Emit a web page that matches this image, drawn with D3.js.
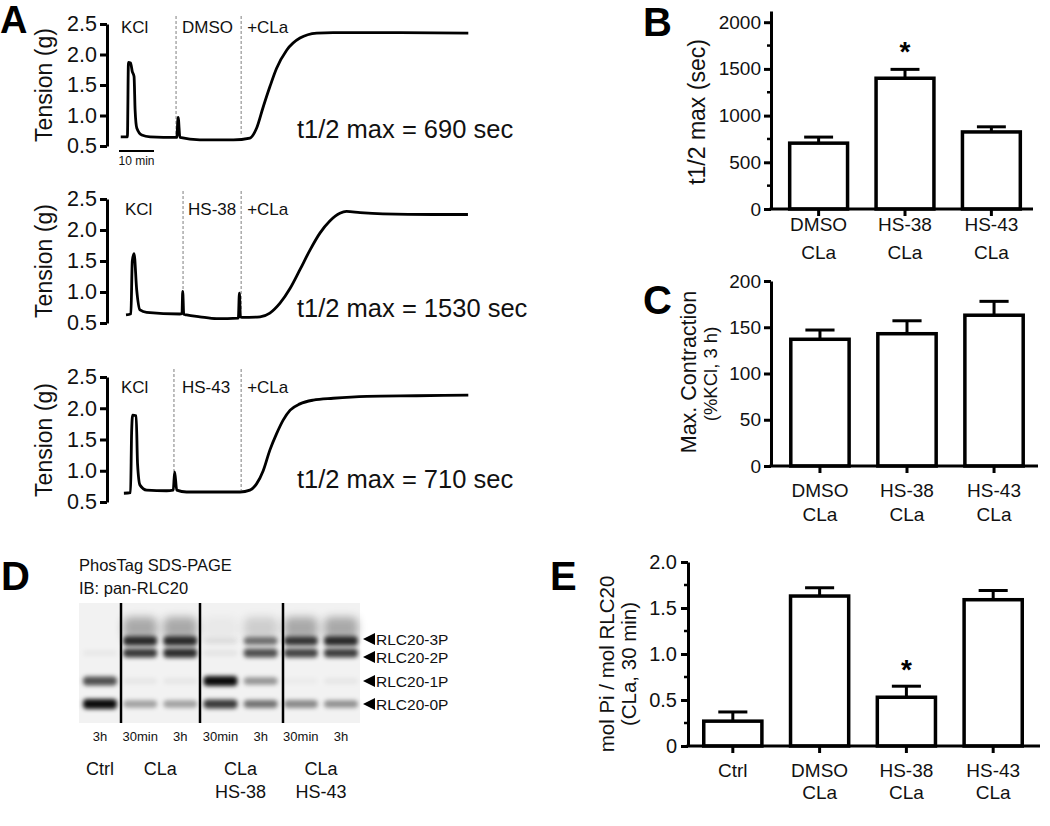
<!DOCTYPE html>
<html>
<head>
<meta charset="utf-8">
<script src="https://cdn.jsdelivr.net/npm/d3@7"></script>
<style>
  html, body { margin: 0; padding: 0; background: #ffffff; }
  svg { display: block; }
</style>
</head>
<body>
<div id="chart"></div>
<script>
// ---------------- DATA ----------------
// Panel A: tension traces (time in min, tension in g)
const trace1Time = [0.5, 2.4, 2.7, 3.3, 3.8, 4.3, 4.6, 5.1, 6.5, 8.9, 16.5, 16.9, 17.4, 23.1, 32.7, 37.4, 39.3, 41.2, 43.1, 45.0, 47.9, 51.7, 56.5, 61.2, 80.3, 99.8];
const trace1Val  = [0.65, 0.65, 1.87, 1.86, 1.72, 1.64, 1.09, 0.79, 0.68, 0.65, 0.64, 0.97, 0.64, 0.60, 0.60, 0.63, 0.79, 1.14, 1.47, 1.77, 2.07, 2.27, 2.35, 2.36, 2.36, 2.35];
const trace2Time = [2.0, 3.4, 3.8, 4.3, 5.05, 6.0, 7.9, 17.4, 18.0, 18.2, 18.5, 19.3, 23.1, 27.9, 34.1, 34.4, 34.7, 35.1, 40.3, 43.1, 46.0, 48.9, 51.7, 54.6, 57.4, 60.3, 63.1, 65.0, 68.9, 75.4, 89.8, 99.7];
const trace2Val  = [0.63, 0.65, 1.50, 1.62, 1.04, 0.71, 0.67, 0.645, 0.65, 1.01, 0.64, 0.63, 0.60, 0.57, 0.58, 0.98, 0.60, 0.59, 0.60, 0.66, 0.82, 1.06, 1.36, 1.68, 1.95, 2.15, 2.27, 2.30, 2.28, 2.26, 2.25, 2.25];
const trace3Time = [1.4, 3.3, 3.6, 3.9, 4.9, 5.3, 6.0, 7.9, 13.6, 15.5, 15.9, 16.5, 19.3, 34.6, 37.4, 39.3, 41.2, 43.1, 45.0, 46.9, 48.9, 51.7, 55.5, 61.2, 70.8, 85.0, 99.8];
const trace3Val  = [0.64, 0.65, 1.60, 1.89, 1.88, 1.11, 0.77, 0.69, 0.68, 0.69, 0.98, 0.69, 0.66, 0.66, 0.69, 0.79, 1.00, 1.33, 1.59, 1.81, 1.97, 2.07, 2.13, 2.16, 2.19, 2.20, 2.21];
const traceMarkTimes = [[16.3, 34.9], [18.3, 34.9], [15.7, 34.9]];
const traceLabels = [["KCl", "DMSO", "+CLa"], ["KCl", "HS-38", "+CLa"], ["KCl", "HS-43", "+CLa"]];
const traceHalfTexts = ["t1/2 max = 690 sec", "t1/2 max = 1530 sec", "t1/2 max = 710 sec"];
const tensionTicks = [0.5, 1.0, 1.5, 2.0, 2.5];
const scaleBarMin = 10;

// Panel B: t1/2 max (sec)
const catsBC = ["DMSO\nCLa", "HS-38\nCLa", "HS-43\nCLa"];
const halfMaxVals = [705, 1400, 825];
const halfMaxErr  = [65, 95, 55];
const halfMaxTicks = [0, 500, 1000, 1500, 2000];
const halfMaxMinor = [250, 750, 1250, 1750];
const halfMaxStars = [false, true, false];

// Panel C: Max contraction (%KCl, 3 h)
const maxContrVals = [137, 143, 163];
const maxContrErr  = [10, 14, 15];
const maxContrTicks = [0, 50, 100, 150, 200];

// Panel E: mol Pi / mol RLC20
const catsE = ["Ctrl", "DMSO\nCLa", "HS-38\nCLa", "HS-43\nCLa"];
const stoichVals = [0.27, 1.63, 0.53, 1.59];
const stoichErr  = [0.10, 0.09, 0.12, 0.10];
const stoichTicks = [0, 0.5, 1.0, 1.5, 2.0];
const stoichMinor = [0.25, 0.75, 1.25, 1.75];
const stoichStars = [false, false, true, false];

// Panel D: PhosTag blot
const blotLanes = ["Ctrl 3h", "CLa 30min", "CLa 3h", "HS-38 30min", "HS-38 3h", "HS-43 30min", "HS-43 3h"];
const blotTimes = ["3h", "30min", "3h", "30min", "3h", "30min", "3h"];
const blotRows  = ["RLC20-3P", "RLC20-2P", "RLC20-1P", "RLC20-0P"];
// intensity per lane, rows = 3P, 2P, 1P, 0P
const blotIntensity = [
  [0.00, 0.04, 0.70, 1.00],
  [0.85, 0.80, 0.05, 0.35],
  [0.85, 0.85, 0.05, 0.35],
  [0.08, 0.06, 1.00, 0.80],
  [0.55, 0.70, 0.40, 0.55],
  [0.80, 0.75, 0.03, 0.45],
  [0.85, 0.78, 0.05, 0.42]
];
const blotSmear = [0.0, 0.3, 0.3, 0.04, 0.15, 0.3, 0.3];
const blotGroups = [["Ctrl"], ["CLa"], ["CLa", "HS-38"], ["CLa", "HS-43"]];
const blotGroupLanes = [[0, 0], [1, 2], [3, 4], [5, 6]];

// ---------------- DRAWING ----------------
const W = 1050, H = 826;
const FONT = "'Liberation Sans', Arial, Helvetica, sans-serif";
const svg = d3.select("#chart").append("svg")
  .attr("width", W).attr("height", H)
  .attr("font-family", FONT);
svg.append("rect").attr("width", W).attr("height", H).attr("fill", "#fff");

const defs = svg.append("defs");
defs.append("filter").attr("id", "blur").attr("x", "-50%").attr("y", "-100%").attr("width", "200%").attr("height", "300%")
  .append("feGaussianBlur").attr("stdDeviation", 2.1);
defs.append("filter").attr("id", "blur2").attr("x", "-50%").attr("y", "-100%").attr("width", "200%").attr("height", "300%")
  .append("feGaussianBlur").attr("stdDeviation", 4.5);

function text(g, x, y, s, size, opt = {}) {
  return g.append("text").attr("x", x).attr("y", y)
    .attr("font-size", size)
    .attr("text-anchor", opt.anchor || "start")
    .attr("font-weight", opt.weight || "normal")
    .attr("fill", opt.fill || "#111")
    .text(s);
}
function rtext(g, x, y, s, size) {
  return g.append("text")
    .attr("transform", `translate(${x},${y}) rotate(-90)`)
    .attr("font-size", size).attr("text-anchor", "middle").attr("fill", "#111")
    .text(s);
}
function styleAxis(ax, fontSize) {
  ax.select(".domain").attr("stroke", "#000").attr("stroke-width", 3);
  ax.selectAll(".tick line").attr("stroke", "#000").attr("stroke-width", 3);
  ax.selectAll(".tick text").attr("font-size", fontSize).attr("fill", "#111").attr("font-family", FONT);
}

// Panel letters
text(svg, 0, 33, "A", 38, {weight: "bold", fill: "#000"});
text(svg, 643, 36, "B", 40, {weight: "bold", fill: "#000"});
text(svg, 643, 314, "C", 40, {weight: "bold", fill: "#000"});
text(svg, 1, 590, "D", 40, {weight: "bold", fill: "#000"});
text(svg, 550, 590, "E", 40, {weight: "bold", fill: "#000"});

// ---- Panel A ----
const xT = d3.scaleLinear().domain([0, 100]).range([119, 469]);
const traceLayouts = [
  {y25: 24, y05: 146, labelY: 33, halfY: 138, axisX: 107, tensionY: 85},
  {y25: 199, y05: 323, labelY: 215, halfY: 317, axisX: 107, tensionY: 261},
  {y25: 377, y05: 502, labelY: 393, halfY: 488, axisX: 107, tensionY: 440}
];
const traces = [[trace1Time, trace1Val], [trace2Time, trace2Val], [trace3Time, trace3Val]];
const labelOffsets = [[0, 6, 6], [0, 5, 6], [0, 8, 6]];
const kclX = [121, 125, 121];

traces.forEach((tr, i) => {
  const L = traceLayouts[i];
  const g = svg.append("g");
  const y = d3.scaleLinear().domain([0.5, 2.5]).range([L.y05, L.y25]);
  const ax = g.append("g").attr("transform", `translate(${L.axisX},0)`)
    .call(d3.axisLeft(y).tickValues(tensionTicks).tickFormat(d3.format(".1f")).tickSize(7).tickPadding(3).tickSizeOuter(0));
  styleAxis(ax, 21.5);
  rtext(g, 52, L.tensionY, "Tension (g)", 23);

  traceMarkTimes[i].forEach(t => {
    g.append("line").attr("x1", xT(t)).attr("x2", xT(t))
      .attr("y1", L.y25 - 8).attr("y2", L.y05 - 12)
      .attr("stroke", "#8a8a8a").attr("stroke-width", 1.1).attr("stroke-dasharray", "3,2");
  });
  text(g, kclX[i], L.labelY, traceLabels[i][0], 17);
  text(g, xT(traceMarkTimes[i][0]) + labelOffsets[i][1], L.labelY, traceLabels[i][1], 17);
  text(g, xT(traceMarkTimes[i][1]) + labelOffsets[i][2], L.labelY, traceLabels[i][2], 17);

  const pts = tr[0].map((t, k) => [t, tr[1][k]]);
  g.append("path").datum(pts)
    .attr("d", d3.line().x(d => xT(d[0])).y(d => y(d[1])).curve(d3.curveMonotoneX))
    .attr("fill", "none").attr("stroke", "#000").attr("stroke-width", 2.8).attr("stroke-linejoin", "round");

  text(g, 297, L.halfY, traceHalfTexts[i], 25.5);
});
svg.append("line").attr("x1", xT(0)).attr("x2", xT(scaleBarMin)).attr("y1", 151).attr("y2", 151)
  .attr("stroke", "#000").attr("stroke-width", 2);
text(svg, (xT(0) + xT(scaleBarMin)) / 2, 165, scaleBarMin + " min", 12, {anchor: "middle"});

// ---- Bar panels ----
function barPanel(cfg) {
  const g = svg.append("g");
  const x = d3.scaleBand().domain(cfg.cats).range(cfg.xRange).paddingInner(0.33).paddingOuter(0.17);
  const y = cfg.y;
  (cfg.minor || []).forEach(v => {
    g.append("line").attr("x1", cfg.axisX - 4).attr("x2", cfg.axisX).attr("y1", y(v)).attr("y2", y(v))
      .attr("stroke", "#000").attr("stroke-width", 2.5);
  });
  cfg.cats.forEach((c, i) => {
    const cx = x(c) + x.bandwidth() / 2;
    g.append("line").attr("x1", cx).attr("x2", cx).attr("y1", y(cfg.vals[i])).attr("y2", y(cfg.vals[i] + cfg.err[i]))
      .attr("stroke", "#000").attr("stroke-width", 3);
    g.append("line").attr("x1", cx - x.bandwidth() * 0.25).attr("x2", cx + x.bandwidth() * 0.25)
      .attr("y1", y(cfg.vals[i] + cfg.err[i])).attr("y2", y(cfg.vals[i] + cfg.err[i]))
      .attr("stroke", "#000").attr("stroke-width", 3);
    if (cfg.stars && cfg.stars[i]) {
      text(g, cx, y(cfg.vals[i] + cfg.err[i]) - cfg.starGap, "*", 28, {anchor: "middle", weight: "bold", fill: "#000"});
    }
  });
  g.selectAll("rect.bar").data(cfg.cats).join("rect")
    .attr("x", c => x(c)).attr("width", x.bandwidth())
    .attr("y", (c, i) => y(cfg.vals[i])).attr("height", (c, i) => y(0) - y(cfg.vals[i]))
    .attr("fill", "#fff").attr("stroke", "#000").attr("stroke-width", 3.5);
  const ax = g.append("g").attr("transform", `translate(${cfg.axisX},0)`)
    .call(d3.axisLeft(y).tickValues(cfg.ticks).tickFormat(cfg.fmt).tickSize(7).tickPadding(cfg.pad).tickSizeOuter(0));
  styleAxis(ax, cfg.tickFont);
  g.append("line").attr("x1", cfg.axisX - 1.5).attr("x2", cfg.xEnd).attr("y1", y(0)).attr("y2", y(0))
    .attr("stroke", "#000").attr("stroke-width", 3);
  cfg.cats.forEach((c, i) => {
    const cx = x(c) + x.bandwidth() / 2;
    g.append("line").attr("x1", cx).attr("x2", cx).attr("y1", y(0)).attr("y2", y(0) + 7)
      .attr("stroke", "#000").attr("stroke-width", 3);
    c.split("\n").forEach((line, k) => {
      text(g, cx, cfg.labelY[k], line, cfg.labelFont, {anchor: "middle"});
    });
  });
  return g;
}

// Panel B
const yB = d3.scaleLinear().domain([0, 2120]).range([209, 11]);
const gB = barPanel({cats: catsBC, vals: halfMaxVals, err: halfMaxErr, y: yB, xRange: [775, 1035],
  axisX: 771, xEnd: 1033, ticks: halfMaxTicks, minor: halfMaxMinor, fmt: d3.format("d"), pad: 3,
  tickFont: 19, labelY: [231, 259], labelFont: 19, stars: halfMaxStars, starGap: 8});
rtext(gB, 705, 112, "t1/2 max (sec)", 23);

// Panel C
const yC = d3.scaleLinear().domain([0, 200]).range([466, 281]);
const gC = barPanel({cats: catsBC, vals: maxContrVals, err: maxContrErr, y: yC, xRange: [776, 1038],
  axisX: 771, xEnd: 1038, ticks: maxContrTicks, minor: [], fmt: d3.format("d"), pad: 3,
  tickFont: 19, labelY: [497, 521], labelFont: 19});
rtext(gC, 696, 372, "Max. Contraction", 21.5);
rtext(gC, 717, 374, "(%KCl, 3 h)", 18.5);

// Panel E
const yE = d3.scaleLinear().domain([0, 2.0]).range([746, 562]);
const gE = barPanel({cats: catsE, vals: stoichVals, err: stoichErr, y: yE, xRange: [689, 1037],
  axisX: 688, xEnd: 1040, ticks: stoichTicks, minor: stoichMinor, fmt: d => d === 0 ? "0" : d3.format(".1f")(d), pad: 4,
  tickFont: 20, labelY: [777, 799], labelFont: 19, stars: stoichStars, starGap: 7});
rtext(gE, 614, 664, "mol Pi / mol RLC20", 20.5);
rtext(gE, 636, 664, "(CLa, 30 min)", 20.5);

// ---- Panel D: blot ----
const gD = svg.append("g");
text(gD, 79, 571, "PhosTag SDS-PAGE", 16.5);
text(gD, 79, 594, "IB: pan-RLC20", 16.5);
const blot = {x0: 79, x1: 360, y0: 603, y1: 723};
gD.append("rect").attr("x", blot.x0).attr("y", blot.y0).attr("width", blot.x1 - blot.x0).attr("height", blot.y1 - blot.y0)
  .attr("fill", "#f2f2f2");
const xLane = d3.scalePoint().domain(blotLanes).range([100, 341]);
const yRow = d3.scaleOrdinal().domain(blotRows).range([641, 653, 681, 704]);
const bandW = 34;
blotLanes.forEach((l, i) => {
  if (blotSmear[i] > 0) {
    gD.append("rect").attr("x", xLane(l) - bandW / 2).attr("y", 617).attr("width", bandW).attr("height", 22)
      .attr("rx", 6).attr("fill", "#000").attr("fill-opacity", blotSmear[i]).attr("filter", "url(#blur2)");
  }
});
blotLanes.forEach((l, i) => {
  blotRows.forEach((r, j) => {
    const v = blotIntensity[i][j];
    if (v <= 0) return;
    const h = 6 + 4 * v;
    gD.append("rect").attr("x", xLane(l) - bandW / 2).attr("y", yRow(r) - h / 2)
      .attr("width", bandW).attr("height", h).attr("rx", 4)
      .attr("fill", "#000").attr("fill-opacity", Math.min(1, v * 0.95)).attr("filter", "url(#blur)");
  });
});
[121, 200, 283].forEach(xx => {
  gD.append("line").attr("x1", xx).attr("x2", xx).attr("y1", blot.y0).attr("y2", blot.y1)
    .attr("stroke", "#000").attr("stroke-width", 2.5);
});
const markerY = [639, 657, 681, 704];
blotRows.forEach((r, j) => {
  const yy = markerY[j];
  gD.append("path").attr("d", `M363,${yy} L375,${yy - 6} L375,${yy + 6} Z`).attr("fill", "#000");
  text(gD, 376, yy + 6, r, 15.5);
});
blotLanes.forEach((l, i) => {
  text(gD, xLane(l), 741, blotTimes[i], 13, {anchor: "middle"});
});
blotGroups.forEach((grp, i) => {
  const lanes = blotGroupLanes[i];
  const cx = (xLane(blotLanes[lanes[0]]) + xLane(blotLanes[lanes[1]])) / 2;
  grp.forEach((s, k) => text(gD, cx, 775 + 23 * k, s, 18, {anchor: "middle"}));
});
</script>
</body>
</html>
